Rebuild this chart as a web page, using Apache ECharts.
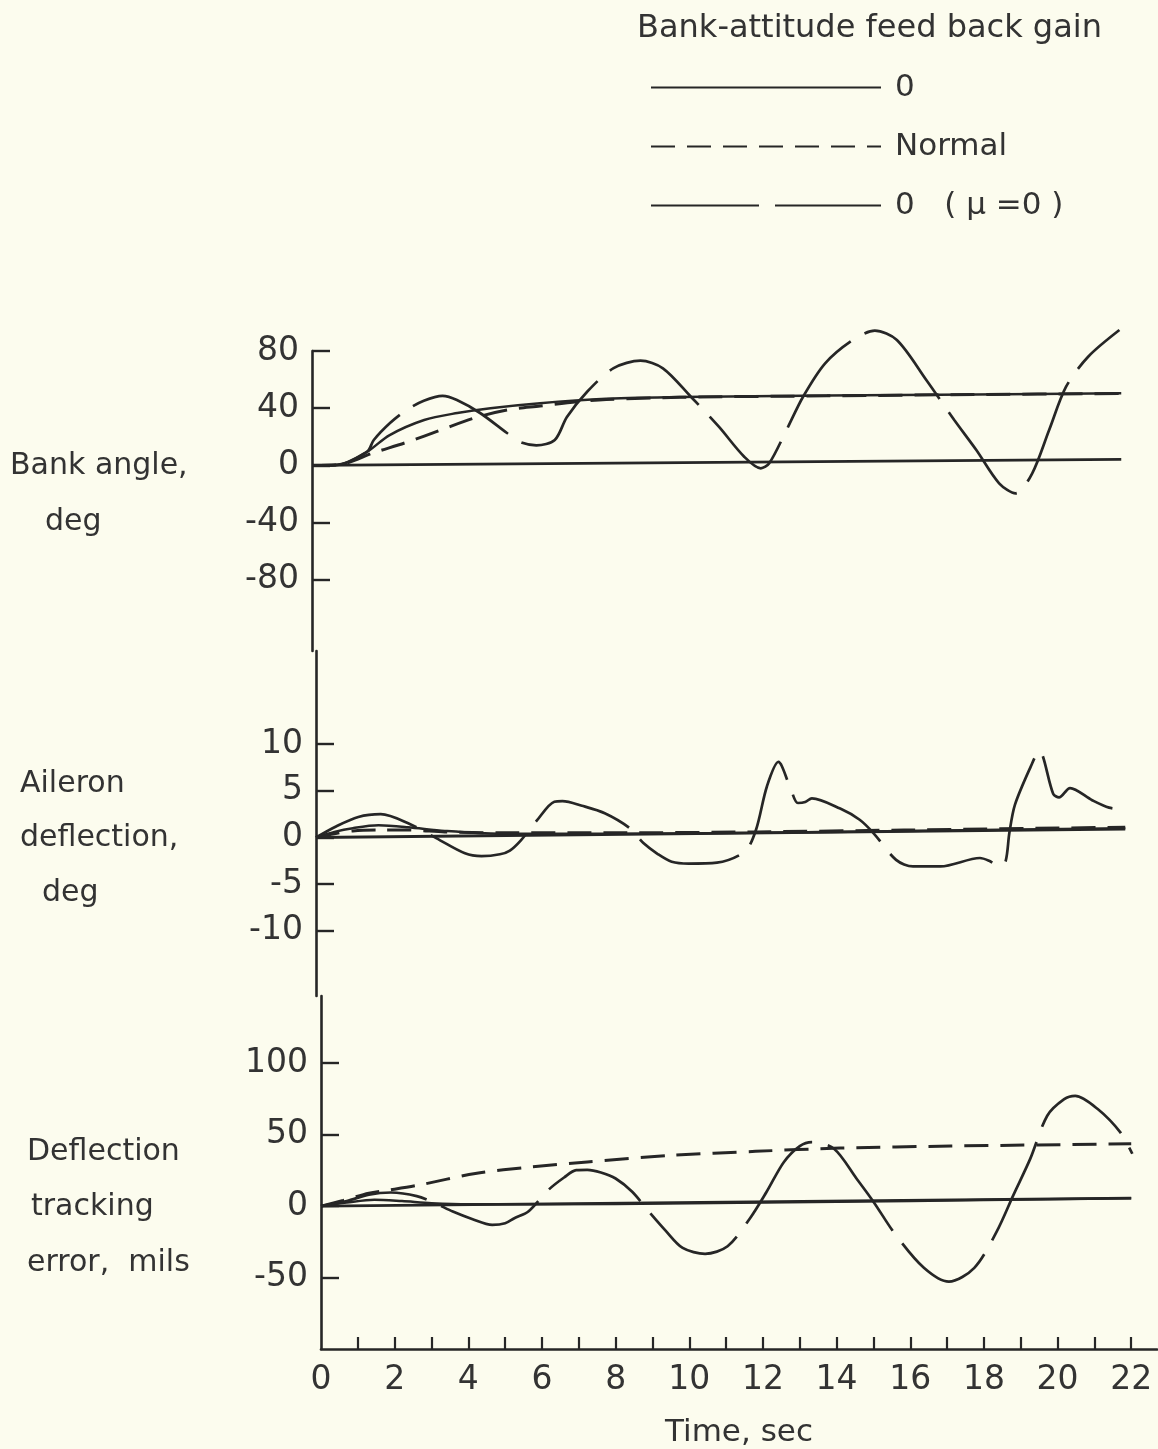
<!DOCTYPE html>
<html>
<head>
<meta charset="utf-8">
<title>Bank-attitude feed back gain</title>
<script src="https://cdn.jsdelivr.net/npm/echarts@6/dist/echarts.min.js"></script>
<style>
  html, body { margin: 0; padding: 0; background: #fcfcee; }
  #main { width: 1158px; height: 1449px; }
</style>
</head>
<body>
<div id="main"></div>
<script>
// time ticks (sec)
const timeTicks = [1, 2, 3, 4, 5, 6, 7, 8, 9, 10, 11, 12, 13, 14, 15, 16, 17, 18, 19, 20, 21, 22]
const timeLabels = [0, 2, 4, 6, 8, 10, 12, 14, 16, 18, 20, 22]
const bankTicks = [-80, -40, 0, 40, 80]
const ailTicks = [-10, -5, 0, 5, 10]
const trkTicks = [-50, 0, 50, 100]

// legend names
const names = ['0', 'Normal', '0   ( \u03bc =0 )']

// bank angle, deg  [time, value]
const bankZero = [[0, 0], [22, 4.2]]
const bankGain0 = [[0, 0], [0.7, 0.3], [1.5, 9.5], [2.1, 21], [3.05, 31.7], [3.95, 36.6], [4.85, 40], [6.2, 43.5], [8, 46.5], [10, 47.8], [14, 48.8], [18, 49.6], [22, 50.4]]
const bankNormal = [[0, 0], [0.7, 0.3], [1.7, 9], [2.6, 16.3], [3.5, 24.7], [4.4, 33], [5.3, 38.7], [6.2, 41.5], [7.2, 44.5], [8, 46], [10, 47.6], [14, 48.6], [18, 49.5], [22, 50.2]]
const bankMu0 = [[0, 0], [0.7, 0.3], [1.5, 9.5], [1.68, 17.7], [2.12, 29.6], [2.57, 38.7], [3.04, 45.2], [3.55, 48.6], [3.94, 45.7], [4.57, 36.6], [5.3, 22.6], [5.66, 16.3], [6.1, 14], [6.6, 17.7], [6.93, 33.8], [7.48, 51.5], [8.2, 68], [8.93, 73.2], [9.54, 67.9], [10.3, 48], [11.06, 27], [11.75, 6], [12.2, -2.1], [12.43, 1.4], [12.9, 24.7], [13.35, 48], [13.95, 71.4], [14.7, 87.7], [15.3, 94.2], [15.9, 87.7], [16.7, 59.7], [17.46, 31.7], [18.06, 10.7], [18.68, -12.6], [19.13, -19.6], [19.58, -5.6], [20.04, 24.7], [20.5, 55], [21.1, 76], [21.95, 94.7]]

// aileron deflection, deg
const ailZero = [[0, 0], [22, 0.9]]
const ailGain0 = [[0, 0], [0.5, 0.6], [1, 1.0], [1.7, 1.3], [2.5, 1.1], [3.5, 0.7], [5, 0.4], [8, 0.4], [12, 0.5], [16, 0.7], [22, 1.0]]
const ailNormal = [[0, 0], [0.5, 0.4], [1, 0.7], [1.7, 0.8], [2.5, 0.8], [3.5, 0.6], [5, 0.5], [8, 0.5], [12, 0.6], [16, 0.8], [22, 1.1]]
const ailMu0 = [[0, 0], [0.53, 1.16], [1.15, 2.2], [1.76, 2.5], [2.52, 1.5], [3.28, -0.1], [4.05, -1.7], [4.5, -2.0], [5.0, -1.8], [5.27, -1.4], [5.57, -0.3], [6.0, 1.8], [6.48, 3.84], [6.7, 3.9], [7.23, 3.4], [7.85, 2.6], [8.53, 1.0], [8.9, -0.6], [9.3, -1.8], [9.67, -2.6], [10.13, -2.8], [10.9, -2.7], [11.66, -1.5], [11.96, 0.8], [12.26, 5.5], [12.57, 8.1], [12.88, 5.5], [13.1, 3.7], [13.3, 3.8], [13.48, 4.2], [14.25, 3.1], [14.78, 1.9], [15.16, 0.45], [15.77, -2.4], [16.23, -3.1], [16.98, -3.1], [18.05, -2.2], [18.3, -2.5], [18.6, -3.1], [18.75, -2.5], [18.85, 0.5], [19.0, 3.5], [19.43, 7.6], [19.66, 9.3], [20.04, 4.7], [20.2, 4.3], [20.5, 5.3], [21.1, 4.0], [21.56, 3.2], [22, 3.0]]

// deflection tracking error, mils
const trkZero = [[0, 0], [22, 5.5]]
const trkGain0 = [[0, 0], [0.7, 2.5], [1.45, 4.5], [2.2, 3.5], [3, 2], [4, 1.2], [6, 1.2], [10, 2], [14, 3], [18, 4.3], [22, 5.5]]
const trkNormal = [[0, 0], [0.6, 4], [1.3, 9], [1.8, 11], [2.66, 14.7], [4.19, 22.8], [5.71, 27.4], [7.23, 30.9], [9.52, 35.5], [11.8, 38.3], [14.1, 40.6], [17.1, 42], [22, 43.6]]
const trkMu0 = [[0, 0], [0.7, 3.5], [1.3, 8], [1.9, 9.5], [2.6, 7], [3.1, 2], [3.58, -3.8], [4.1, -9], [4.65, -13.1], [5.0, -12], [5.25, -8.5], [5.63, -3.8], [6.17, 11.2], [6.6, 20], [6.93, 25.1], [7.23, 25.3], [7.6, 23.5], [8.0, 19.3], [8.45, 10], [8.9, -3.8], [9.35, -17], [9.82, -29.3], [10.43, -33.4], [11.04, -28.1], [11.65, -8.5], [12.1, 10], [12.57, 30.9], [13.0, 42], [13.33, 44.8], [13.93, 40.1], [14.54, 19.3], [15.0, 3.1], [15.6, -20], [16.37, -43.2], [17.05, -52.9], [17.74, -43.2], [18.35, -17.7], [18.8, 7.7], [19.26, 33.2], [19.72, 63.2], [20.18, 74.8], [20.48, 77.1], [21.09, 67.9], [21.7, 51.7], [22.03, 36.6]]

const ink = '#262626'
const textColor = '#333'
const font = 'DejaVu Sans'

const styles = {
  zero: { color: ink, width: 2.8, type: 'solid' },
  gain0: { color: ink, width: 2.5, type: 'solid' },
  normal: { color: ink, width: 3, type: [24, 12] },
  mu0: { color: ink, width: 2.7, type: [108, 16] }
}

function line (name, data, idx, style) {
  return {
    type: 'line',
    name: name,
    xAxisIndex: idx,
    yAxisIndex: idx,
    data: data,
    symbol: 'none',
    smooth: 0.3,
    clip: false,
    silent: true,
    lineStyle: style,
    itemStyle: { color: ink }
  }
}

function yAxis (idx, min, max, ticks) {
  return {
    type: 'value',
    gridIndex: idx,
    min: min,
    max: max,
    splitLine: { show: false },
    axisLine: { show: true, lineStyle: { color: ink, width: 2.6 } },
    axisTick: { show: true, inside: true, length: 18, customValues: ticks, lineStyle: { color: ink, width: 2.4 } },
    axisLabel: { customValues: ticks, fontSize: 33, fontFamily: font, color: textColor, margin: 13 }
  }
}

function hiddenX (idx) {
  return { type: 'value', gridIndex: idx, min: 0, max: 22.7, show: false }
}

const chart = echarts.init(document.getElementById('main'))

const sideText = [
  ['Bank angle,', 10, 466], ['deg', 45, 522],
  ['Aileron', 20, 784], ['deflection,', 20, 838], ['deg', 42, 893],
  ['Deflection', 27, 1152], ['tracking', 31, 1207], ['error,  mils', 27, 1263]
]

const option = {
  backgroundColor: '#fcfcee',
  animation: false,
  title: {
    text: 'Bank-attitude feed back gain',
    left: 632,
    top: 8,
    textStyle: { fontSize: 32, fontWeight: 'normal', fontFamily: font, color: textColor }
  },
  legend: {
    data: names,
    orient: 'vertical',
    left: 645,
    top: 67,
    itemWidth: 230,
    itemHeight: 30,
    itemGap: 28,
    itemStyle: { opacity: 0 },
    textStyle: { fontSize: 31, fontFamily: font, color: textColor, lineHeight: 30, padding: [0, 0, 0, 9] }
  },
  grid: [
    { left: 312, top: 351, width: 835, height: 300 },
    { left: 316, top: 651, width: 835, height: 345 },
    { left: 321, top: 996, width: 836, height: 356 }
  ],
  xAxis: [
    hiddenX(0),
    hiddenX(1),
    {
      type: 'value',
      gridIndex: 2,
      min: 0,
      max: 22.7,
      name: 'Time, sec',
      nameLocation: 'middle',
      nameGap: 68,
      nameTextStyle: { fontSize: 31, fontFamily: font, color: textColor },
      splitLine: { show: false },
      axisLine: { onZero: false, lineStyle: { color: ink, width: 2.6 } },
      axisTick: { inside: true, length: 12, customValues: timeTicks, lineStyle: { color: ink, width: 2.2 } },
      axisLabel: { customValues: timeLabels, fontSize: 33, fontFamily: font, color: textColor, margin: 15 }
    }
  ],
  yAxis: [
    yAxis(0, -130, 80, bankTicks),
    yAxis(1, -17, 20, ailTicks),
    yAxis(2, -100, 147, trkTicks)
  ],
  graphic: sideText.map(function (t) {
    return {
      type: 'text',
      x: t[1],
      y: t[2],
      style: { text: t[0], fontSize: 30, fontFamily: font, fill: textColor, textVerticalAlign: 'middle' }
    }
  }),
  series: [
    line('zero', bankZero, 0, styles.zero),
    line(names[0], bankGain0, 0, styles.gain0),
    line(names[1], bankNormal, 0, styles.normal),
    line(names[2], bankMu0, 0, styles.mu0),
    line('zero', ailZero, 1, styles.zero),
    line(names[0], ailGain0, 1, styles.gain0),
    line(names[1], ailNormal, 1, styles.normal),
    line(names[2], ailMu0, 1, styles.mu0),
    line('zero', trkZero, 2, styles.zero),
    line(names[0], trkGain0, 2, styles.gain0),
    line(names[1], trkNormal, 2, styles.normal),
    line(names[2], trkMu0, 2, styles.mu0)
  ]
}

chart.setOption(option)
</script>
</body>
</html>
